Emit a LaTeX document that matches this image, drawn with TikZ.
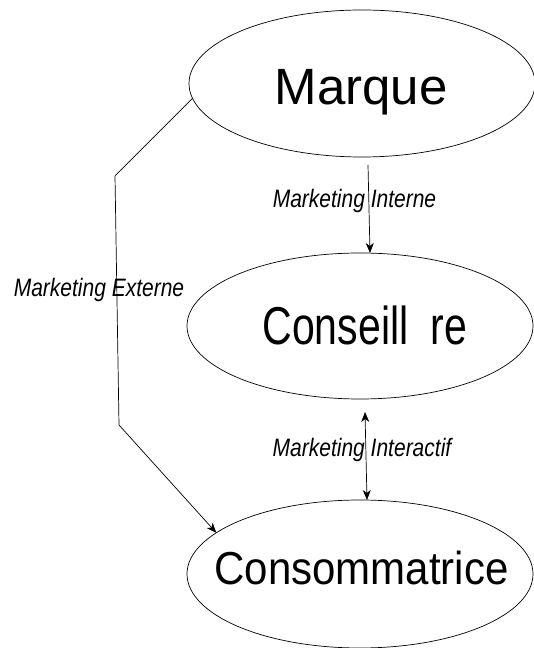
\documentclass[tikz,border=0pt]{standalone}
\usepackage{fontspec}
\setmainfont{Liberation Sans}
\usetikzlibrary{shapes.geometric,arrows.meta,calc}
\begin{document}
\begin{tikzpicture}[x=1pt,y=1pt,
  oval/.style={draw, ellipse, line width=0.7pt, outer sep=0pt, minimum width=346pt, minimum height=147pt, inner sep=0pt},
  lbl/.style={font=\fontsize{21}{21}\selectfont\itshape, inner sep=0pt, anchor=base},
  big/.style={inner sep=0pt, anchor=base},
  conn/.style={line width=0.7pt},
  arr/.style={conn, -{Stealth[length=10pt,width=8pt,inset=3pt]}},
  darr/.style={conn, {Stealth[length=10pt,width=8pt,inset=3pt]}-{Stealth[length=10pt,width=8pt,inset=3pt]}}]
\useasboundingbox (0,0) rectangle (533,648);
% ellipses
\node[oval] (M) at (362,564.5) {};
\node[oval, minimum height=146pt] (C) at (360,322) {};
\node[oval, minimum height=148pt] (Co) at (360,74) {};
% texts
\node[big, font=\fontsize{51}{51}\selectfont] (Mt) at (361,543) {Marque};
\node[big, font=\fontsize{41}{41}\selectfont] (Ct) at (365,303) {\scalebox{1}[1.3]{Conseill\hspace{0.55em}re}};
\node[big, font=\fontsize{42}{42}\selectfont] (Cot) at (361.5,63) {\scalebox{1}[1.1]{Consommatrice}};
% labels
\node[lbl] (Lint) at (354.5,440) {\scalebox{1}[1.2]{Marketing Interne}};
\node[lbl] (Lext) at (99,351) {\scalebox{1}[1.2]{Marketing Externe}};
\node[lbl] (Lia) at (362,191) {\scalebox{1}[1.2]{Marketing Interactif}};
% connectors
\draw[arr] ($(M.south)+(6,-8)$) -- ($(C.north)+(10,0)$);
\draw[darr] ($(C.south)+(5,-13)$) -- ($(Co.north)+(7,0)$);
\coordinate (e1) at (115,472);
\coordinate (e2) at (119,223);
\draw[arr] (M.185) -- (e1) -- (e2) -- (Co.164);
\end{tikzpicture}
\end{document}
